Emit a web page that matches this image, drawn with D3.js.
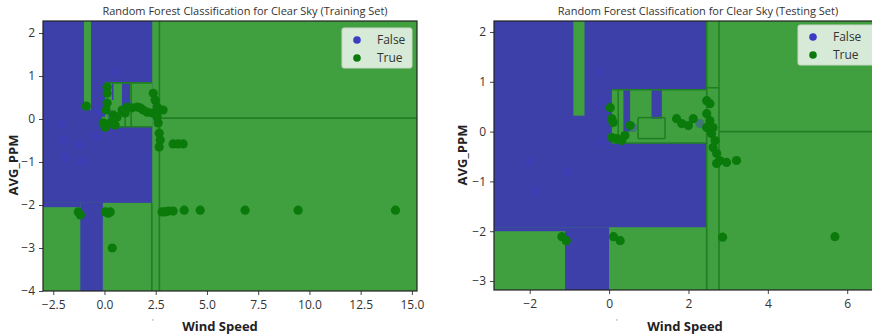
<!DOCTYPE html>
<html>
<head>
<meta charset="utf-8">
<script src="https://cdn.jsdelivr.net/npm/d3@7"></script>
<style>
  body { margin: 0; background: #fff; }
  text { font-family: 'Open Sans', 'Noto Sans', sans-serif; }
</style>
</head>
<body>
<svg id="chart" width="872" height="336"></svg>
<script>
// class labels
const classes = ['False', 'True'];

// decision regions [x0, x1, y0, y1, class], painted in order over a True background
const trainRegions = [
  [-3, 2.33, -1.95, 2.28, 0],
  [-3, -1.18, -2.05, -1.95, 0],
  [-1.18, -0.08, -4, -1.95, 0],
  [-1.0, -0.66, 0.22, 2.28, 1],
  [0.03, 2.33, -0.18, 0.84, 1],
  [-0.13, 0.03, -0.22, 0.05, 1],
  [0.36, 0.44, 0.44, 0.84, 0],
  [0.85, 1.25, 0.28, 0.84, 0],
];
const testRegions = [
  [-2.9, 2.46, -1.92, 2.22, 0],
  [-2.9, -1.11, -2.0, -1.92, 0],
  [-1.11, 0.0, -3.18, -1.92, 0],
  [-0.9, -0.62, 0.32, 2.22, 1],
  [0.07, 2.46, -0.23, 0.84, 1],
  [0.36, 0.53, 0.0, 0.84, 0],
  [1.07, 1.33, 0.26, 0.84, 0],
];

// thin split lines left by the contour fill [x0, y0, x1, y1]
const trainSplits = [
  [2.68, -4, 2.68, 2.28],
  [2.31, -4, 2.31, -1.95],
  [2.68, 0.02, 15.25, 0.02],
  [0.03, 0.84, 2.33, 0.84],
  [1.01, -0.18, 1.01, 0.28],
  [1.3, -0.18, 1.3, 0.84],
  [0.03, -0.18, 2.33, -0.18],
];
const testSplits = [
  [2.46, -3.18, 2.46, 2.22],
  [2.77, -3.18, 2.77, 2.22],
  [2.77, 0.0, 6.65, 0.0],
  [2.46, 0.88, 2.77, 0.88],
  [0.07, 0.84, 2.46, 0.84],
  [0.23, -0.2, 0.23, 0.84],
  [0.73, -0.14, 1.41, -0.14],
  [0.73, 0.28, 1.41, 0.28],
  [0.73, -0.14, 0.73, 0.28],
  [1.41, -0.14, 1.41, 0.28],
  [0.07, -0.23, 2.46, -0.23],
];

// training set points [wind speed, avg ppm]
const trainFalse = [
  [-2.1, -0.1], [-2.0, -0.5], [-1.9, -0.9], [-1.2, -0.6], [-1.1, -1.0],
  [-0.4, -0.4], [-0.3, 0.2], [0.36, 0.09], [1.09, 0.37], [0.5, 1.1],
];
const trainTrue = [
  [-0.89, 0.3], [0.13, 0.74], [0.13, 0.6], [0.13, 0.37], [0.08, 0.21],
  [-0.06, -0.09], [0.04, -0.19], [0.28, -0.09], [0.43, 0.09], [0.62, 0.05],
  [0.52, -0.14], [1.11, 0.28], [0.86, 0.21], [1.01, 0.14], [1.35, 0.26],
  [1.6, 0.28], [1.74, 0.26], [1.89, 0.21], [2.08, 0.16], [2.33, 0.14],
  [2.38, 0.6], [2.47, 0.44], [2.57, 0.28], [2.72, 0.21], [2.86, 0.21],
  [2.57, 0.05], [2.62, -0.09], [2.67, -0.33], [2.72, -0.49], [2.67, -0.65],
  [3.35, -0.58], [3.59, -0.58], [3.84, -0.58],
  [-1.28, -2.16], [-1.18, -2.23], [0.04, -2.16], [0.18, -2.19], [0.28, -2.16],
  [0.38, -3.0], [2.81, -2.16], [2.96, -2.16], [3.11, -2.14], [3.35, -2.14],
  [3.89, -2.12], [4.67, -2.12], [6.86, -2.12], [9.45, -2.12], [14.2, -2.12],
];

// testing set points
const testFalse = [
  [-2.0, -0.6], [-1.85, -1.2], [-1.05, -0.8], [-0.25, 1.2], [-0.2, 0.6],
  [-0.2, -0.2], [0.6, 0.08], [2.29, 0.16],
];
const testTrue = [
  [0.03, 0.48], [0.07, 0.26], [0.1, 0.18], [0.07, -0.12], [0.19, -0.14],
  [0.32, -0.18], [0.4, -0.08], [0.53, 0.12], [1.7, 0.26], [1.83, 0.16],
  [2.0, 0.12], [2.12, 0.26], [2.46, 0.62], [2.54, 0.56], [2.46, 0.36],
  [2.54, 0.22], [2.62, 0.08], [2.46, 0.08], [2.58, -0.04], [2.67, -0.18],
  [2.62, -0.32], [2.71, -0.44], [2.79, -0.58], [2.96, -0.62], [3.21, -0.58],
  [2.71, -0.64],
  [-1.19, -2.11], [-1.08, -2.19], [0.11, -2.11], [0.28, -2.19], [2.86, -2.12],
  [5.69, -2.11],
];

// tick values
const trainXTicks = [-2.5, 0, 2.5, 5, 7.5, 10, 12.5, 15];
const trainYTicks = [-4, -3, -2, -1, 0, 1, 2];
const testXTicks = [-2, 0, 2, 4, 6];
const testYTicks = [-3, -2, -1, 0, 1, 2];

const regionColor = ['#3d40a8', '#40a040'];
const pointColor = ['#3b3cc4', '#0a7a0a'];

const svg = d3.select('#chart');
const minus = (s) => s.replace('-', '\u2212');

function drawPanel(p) {
  const x = d3.scaleLinear().domain(p.xDomain).range(p.xRange);
  const y = d3.scaleLinear().domain(p.yDomain).range(p.yRange);
  const g = svg.append('g');

  const clipId = 'clip' + p.id;
  g.append('clipPath').attr('id', clipId)
    .append('rect')
    .attr('x', p.xRange[0]).attr('y', p.yRange[1])
    .attr('width', p.xRange[1] - p.xRange[0])
    .attr('height', p.yRange[0] - p.yRange[1]);

  const plot = g.append('g').attr('clip-path', `url(#${clipId})`);

  // background = True class
  plot.append('rect')
    .attr('x', p.xRange[0]).attr('y', p.yRange[1])
    .attr('width', p.xRange[1] - p.xRange[0])
    .attr('height', p.yRange[0] - p.yRange[1])
    .attr('fill', regionColor[1]);

  plot.selectAll('rect.region')
    .data(p.regions)
    .enter()
    .append('rect')
    .attr('class', 'region')
    .attr('x', (d) => x(d[0]))
    .attr('y', (d) => y(d[3]))
    .attr('width', (d) => x(d[1]) - x(d[0]))
    .attr('height', (d) => y(d[2]) - y(d[3]))
    .attr('fill', (d) => regionColor[d[4]]);

  plot.selectAll('line.split')
    .data(p.splits)
    .enter()
    .append('line')
    .attr('class', 'split')
    .attr('x1', (d) => x(d[0])).attr('y1', (d) => y(d[1]))
    .attr('x2', (d) => x(d[2])).attr('y2', (d) => y(d[3]))
    .attr('stroke', '#1f7f22')
    .attr('stroke-width', 1.6);

  // points
  [p.falsePts, p.truePts].forEach((pts, k) => {
    plot.append('g')
      .selectAll('circle')
      .data(pts)
      .enter()
      .append('circle')
      .attr('cx', (d) => x(d[0]))
      .attr('cy', (d) => y(d[1]))
      .attr('r', 4.6)
      .attr('fill', pointColor[k])
      .attr('fill-opacity', k === 0 ? 0.4 : 1);
  });

  // axes
  const xAxis = g.append('g')
    .attr('transform', `translate(0,${p.yRange[0]})`)
    .call(d3.axisBottom(x).tickValues(p.xTicks).tickSize(4).tickPadding(5)
      .tickFormat((d) => minus(d3.format(p.xFormat)(d))));
  const yAxis = g.append('g')
    .attr('transform', `translate(${p.xRange[0]},0)`)
    .call(d3.axisLeft(y).tickValues(p.yTicks).tickSize(4).tickPadding(4)
      .tickFormat((d) => minus(d3.format('d')(d))));
  [xAxis, yAxis].forEach((a) => {
    a.select('.domain').remove();
    a.selectAll('line').attr('stroke', '#444');
    a.selectAll('text').attr('fill', '#333').style('font-size', '12px')
      .style('font-family', "'Open Sans', sans-serif");
  });

  // frame
  g.append('rect')
    .attr('x', p.xRange[0]).attr('y', p.yRange[1])
    .attr('width', p.xRange[1] - p.xRange[0])
    .attr('height', p.yRange[0] - p.yRange[1])
    .attr('fill', 'none')
    .attr('stroke', '#222')
    .attr('stroke-width', 1.2);

  // title and labels
  g.append('text')
    .attr('x', p.titleX).attr('y', 15)
    .attr('text-anchor', 'middle')
    .style('font-size', '11px').attr('fill', '#333')
    .text(p.title);
  g.append('text')
    .attr('x', p.xLabelX).attr('y', 331)
    .attr('text-anchor', 'middle')
    .style('font-size', '13px').style('font-weight', 700).attr('fill', '#222')
    .text('Wind Speed');
  g.append('text')
    .attr('transform', `translate(${p.yLabelX},${p.yLabelY}) rotate(-90)`)
    .attr('text-anchor', 'middle')
    .style('font-size', '13px').style('font-weight', 700).attr('fill', '#222')
    .text('AVG_PPM');
  g.append('text')
    .attr('x', p.markX).attr('y', 324)
    .attr('text-anchor', 'middle')
    .style('font-size', '8px').attr('fill', '#777')
    .text("'");

  // legend
  const lg = g.append('g').attr('transform', `translate(${p.legend[0]},${p.legend[1]})`);
  lg.append('rect')
    .attr('width', p.legend[2]).attr('height', 40)
    .attr('rx', 2)
    .attr('fill', '#dfeddf').attr('fill-opacity', 0.95)
    .attr('stroke', '#c8d8c8');
  classes.forEach((c, i) => {
    lg.append('circle')
      .attr('cx', 15).attr('cy', 12 + i * 18).attr('r', 3.8)
      .attr('fill', pointColor[i]);
    lg.append('text')
      .attr('x', 35).attr('y', 16 + i * 18)
      .style('font-size', '12px').attr('fill', '#333')
      .text(c);
  });
}

drawPanel({
  id: 'train',
  title: 'Random Forest Classification for Clear Sky (Training Set)',
  xDomain: [-3, 15.25], xRange: [43, 417],
  yDomain: [-4, 2.28], yRange: [291, 21],
  regions: trainRegions, splits: trainSplits,
  falsePts: trainFalse, truePts: trainTrue,
  xTicks: trainXTicks, yTicks: trainYTicks, xFormat: '.1f',
  titleX: 245, xLabelX: 220, yLabelX: 18, yLabelY: 165, markX: 153,
  legend: [342, 28, 70],
});

drawPanel({
  id: 'test',
  title: 'Random Forest Classification for Clear Sky (Testing Set)',
  xDomain: [-2.9, 6.65], xRange: [494, 873],
  yDomain: [-3.18, 2.22], yRange: [290, 21],
  regions: testRegions, splits: testSplits,
  falsePts: testFalse, truePts: testTrue,
  xTicks: testXTicks, yTicks: testYTicks, xFormat: 'd',
  titleX: 698, xLabelX: 685, yLabelX: 467, yLabelY: 155, markX: 617,
  legend: [798, 25, 76],
});
</script>
</body>
</html>
